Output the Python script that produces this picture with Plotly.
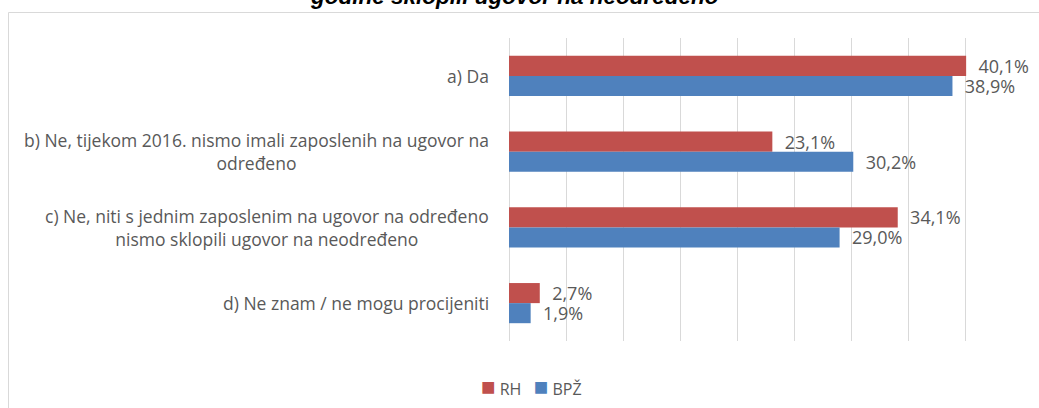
import plotly.graph_objects as go

categories = [
    "a) Da",
    "b) Ne, tijekom 2016. nismo imali zaposlenih na ugovor na<br>određeno",
    "c) Ne, niti s jednim zaposlenim na ugovor na određeno<br>nismo sklopili ugovor na neodređeno",
    "d) Ne znam / ne mogu procijeniti",
]
rh_values = [40.1, 23.1, 34.1, 2.7]
bpz_values = [38.9, 30.2, 29.0, 1.9]
series_names = ["RH", "BPŽ"]
title_text = "godine sklopili ugovor na neodređeno"

RED = "#C0504D"
BLUE = "#4F81BD"
GRAY_TXT = "#595959"
FONT = "Open Sans"

W, H = 1039, 408
L, R, T, B = 509, 17, 38, 67
pw, ph = W - L - R, H - T - B

def px_x(p):
    return (p - L) / pw

def px_y(p):
    return (H - B - p) / ph

fig = go.Figure()
for name, vals, col in [(series_names[0], rh_values, RED), (series_names[1], bpz_values, BLUE)]:
    fig.add_trace(go.Bar(
        name=name, y=categories, x=vals, orientation="h",
        marker=dict(color=col, line=dict(width=0)),
        texttemplate="\u00a0\u00a0%{x:.1f}%", textposition="outside",
        textfont=dict(family=FONT, size=18, color=GRAY_TXT),
        constraintext="none",
        cliponaxis=False, showlegend=False,
    ))

annotations = []
for c in categories:
    annotations.append(dict(
        x=px_x(491), xref="paper", y=c, yref="y", text=c,
        xanchor="right", yanchor="middle", align="center", showarrow=False,
        font=dict(family=FONT, size=17.5, color=GRAY_TXT),
    ))

annotations.append(dict(
    x=px_x(514), xref="paper", y=px_y(11), yref="paper", text="<b><i>" + title_text + "</i></b>",
    xanchor="center", yanchor="bottom", showarrow=False,
    font=dict(family="Liberation Sans", size=22.5, color="#000000"),
))

sq = "<span style='font-size:24px;color:{c}'>■</span>"
legend_text = (sq.format(c=RED) + "\u00a0" + series_names[0] + "\u00a0\u00a0\u00a0"
               + sq.format(c=BLUE) + "\u00a0" + series_names[1])
annotations.append(dict(
    x=px_x(531), xref="paper", y=px_y(385), yref="paper",
    text=legend_text,
    xanchor="center", yanchor="middle", showarrow=False,
    font=dict(family=FONT, size=16, color=GRAY_TXT),
))

fig.update_layout(
    width=W, height=H,
    margin=dict(l=L, r=R, t=T, b=B, pad=0),
    paper_bgcolor="white", plot_bgcolor="white",
    barmode="group", bargap=0.47, bargroupgap=0,
    separators=",.",
    xaxis=dict(range=[0, 45], dtick=5, showgrid=True, gridcolor="#D9D9D9", gridwidth=1,
               showticklabels=False, zeroline=True, zerolinecolor="#D9D9D9", zerolinewidth=1,
               showline=False, fixedrange=True),
    yaxis=dict(autorange="reversed", showticklabels=False, showgrid=False, showline=False,
               zeroline=False, fixedrange=True),
    annotations=annotations,
    shapes=[dict(type="rect", xref="paper", yref="paper",
                 x0=px_x(8.5), x1=px_x(1060), y0=px_y(430), y1=px_y(12.5),
                 line=dict(color="#D9D9D9", width=1), layer="below")],
    showlegend=False,
)

fig.write_html("out.html", config={"displayModeBar": False},
               post_script="document.body.style.margin='0';document.body.style.overflow='hidden';")
